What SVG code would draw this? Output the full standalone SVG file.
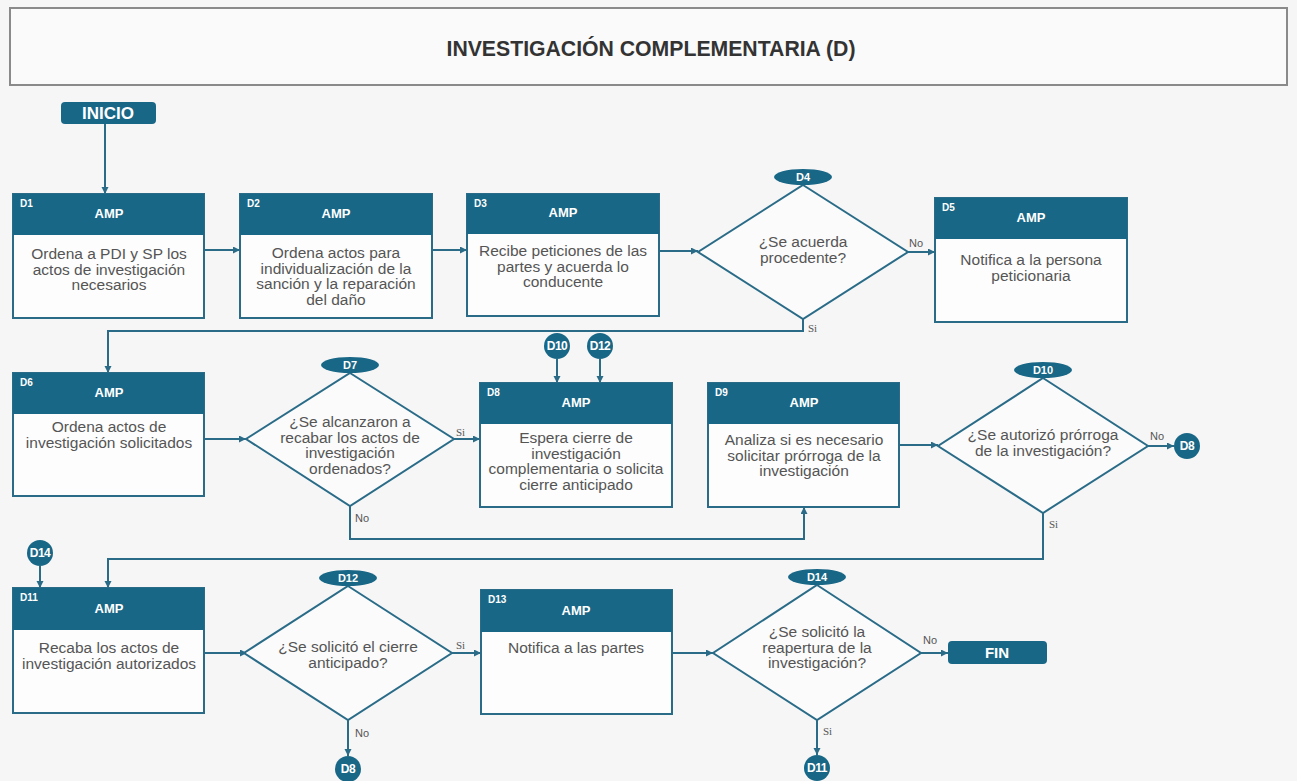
<svg xmlns="http://www.w3.org/2000/svg" width="1297" height="781" viewBox="0 0 1297 781">
<defs>
<marker id="ah" markerUnits="userSpaceOnUse" markerWidth="8" markerHeight="8" refX="7" refY="3.5" orient="auto"><path d="M0,0 L7,3.5 L0,7 z" fill="#2a6c88"/></marker>
<style>
.body{fill:#fdfdfd;stroke:#2a6c88;stroke-width:2}
.hdr{fill:#196786}
.dia{fill:#fbfbfb;stroke:#2a6c88;stroke-width:2}
.fill{fill:#196786}
.t{font-family:"Liberation Sans",Arial,sans-serif;font-size:15.5px;fill:#555;text-anchor:middle}
.amp{font-family:"Liberation Sans",Arial,sans-serif;font-size:13px;font-weight:bold;fill:#fff;text-anchor:middle}
.id{font-family:"Liberation Sans",Arial,sans-serif;font-size:10px;font-weight:bold;fill:#fff}
.ct{font-family:"Liberation Sans",Arial,sans-serif;font-size:12px;font-weight:bold;fill:#fff;text-anchor:middle;letter-spacing:-0.5px}
.ot{font-family:"Liberation Sans",Arial,sans-serif;font-size:11px;font-weight:bold;fill:#fff;text-anchor:middle}
.conn path{fill:none;stroke:#2a6c88;stroke-width:2}
.arr{marker-end:url(#ah)}
.no{font-family:"Liberation Sans",Arial,sans-serif;font-size:11px;fill:#555}
.si{font-family:"Liberation Serif","Times New Roman",serif;font-size:11px;fill:#555}
.term{font-family:"Liberation Sans",Arial,sans-serif;font-weight:bold;fill:#fff;text-anchor:middle}
</style>
</defs>
<rect x="0" y="0" width="1297" height="781" fill="#f6f6f6"/>
<g id="title">
<rect x="10" y="8" width="1277" height="77" fill="#fafafa" stroke="#8a8a8a" stroke-width="2"/>
<text x="651" y="56" font-family="'Liberation Sans',Arial,sans-serif" font-size="22" font-weight="bold" fill="#333" text-anchor="middle" textLength="409" lengthAdjust="spacingAndGlyphs">INVESTIGACIÓN COMPLEMENTARIA (D)</text>
</g>

<g class="conn">
<path class="arr" d="M105,124 V194"/>
<path class="arr" d="M204,250 H240"/>
<path class="arr" d="M432,250 H467"/>
<path class="arr" d="M659,251 H698"/>
<path class="arr" d="M908,252 H935"/>
<path class="arr" d="M803,319 V331 H108 V373"/>
<path class="arr" d="M204,439 H246"/>
<path class="arr" d="M454,439 H480"/>
<path class="arr" d="M557,359 V383"/>
<path class="arr" d="M600,359 V383"/>
<path class="arr" d="M350,506 V539 H804 V507"/>
<path class="arr" d="M899,445 H938"/>
<path class="arr" d="M1148,446 H1174"/>
<path class="arr" d="M1043,513 V559 H108 V588"/>
<path class="arr" d="M40,566 V588"/>
<path class="arr" d="M204,653 H247"/>
<path class="arr" d="M452,653 H481"/>
<path class="arr" d="M348,720 V756"/>
<path class="arr" d="M672,653 H713"/>
<path class="arr" d="M921,653 H948"/>
<path class="arr" d="M817,720 V755"/>
<text class="no" x="909" y="247">No</text>
<text class="si" x="808" y="332">Si</text>
<text class="si" x="456" y="436">Si</text>
<text class="no" x="355" y="522">No</text>
<text class="no" x="1150" y="440">No</text>
<text class="si" x="1049" y="528">Si</text>
<text class="no" x="355" y="737">No</text>
<text class="si" x="456" y="649">Si</text>
<text class="no" x="923" y="644">No</text>
<text class="si" x="823" y="735">Si</text>
</g>

<g id="INICIO"><rect class="fill" x="61" y="102" width="95" height="22" rx="4"/><text class="term" x="108" y="119" font-size="17">INICIO</text></g>
<g id="FIN"><rect class="fill" x="948" y="641" width="99" height="23" rx="4"/><text class="term" x="997" y="658" font-size="15">FIN</text></g>

<g id="D1"><rect class="body" x="13" y="194" width="191" height="124"/><rect class="hdr" x="13" y="194" width="191" height="41"/><text class="id" x="20" y="207">D1</text><text class="amp" x="109" y="218">AMP</text>
<text class="t"><tspan x="109" y="259">Ordena a PDI y SP los</tspan><tspan x="109" y="274.5">actos de investigación</tspan><tspan x="109" y="290">necesarios</tspan></text></g>

<g id="D2"><rect class="body" x="240" y="194" width="192" height="124"/><rect class="hdr" x="240" y="194" width="192" height="41"/><text class="id" x="247" y="207">D2</text><text class="amp" x="336" y="218">AMP</text>
<text class="t"><tspan x="336" y="258">Ordena actos para</tspan><tspan x="336" y="273.5">individualización de la</tspan><tspan x="336" y="289">sanción y la reparación</tspan><tspan x="336" y="304.5">del daño</tspan></text></g>

<g id="D3"><rect class="body" x="467" y="194" width="192" height="122"/><rect class="hdr" x="467" y="194" width="192" height="40"/><text class="id" x="474" y="207">D3</text><text class="amp" x="563" y="217">AMP</text>
<text class="t"><tspan x="563" y="256">Recibe peticiones de las</tspan><tspan x="563" y="271.5">partes y acuerda lo</tspan><tspan x="563" y="287">conducente</tspan></text></g>

<g id="D4"><polygon class="dia" points="803,185 908,252 803,319 698,252"/><ellipse class="fill" cx="803" cy="177" rx="29" ry="8"/><text class="ot" x="803" y="181">D4</text>
<text class="t"><tspan x="803" y="247">¿Se acuerda</tspan><tspan x="803" y="263">procedente?</tspan></text></g>

<g id="D5"><rect class="body" x="935" y="198" width="192" height="124"/><rect class="hdr" x="935" y="198" width="192" height="41"/><text class="id" x="942" y="211">D5</text><text class="amp" x="1031" y="222">AMP</text>
<text class="t"><tspan x="1031" y="265">Notifica a la persona</tspan><tspan x="1031" y="280.5">peticionaria</tspan></text></g>

<g id="D6"><rect class="body" x="13" y="373" width="191" height="123"/><rect class="hdr" x="13" y="373" width="191" height="41"/><text class="id" x="20" y="386">D6</text><text class="amp" x="109" y="397">AMP</text>
<text class="t"><tspan x="109" y="432">Ordena actos de</tspan><tspan x="109" y="448">investigación solicitados</tspan></text></g>

<g id="D7"><polygon class="dia" points="350,373 454,439 350,506 246,439"/><ellipse class="fill" cx="350" cy="365" rx="29" ry="8"/><text class="ot" x="350" y="369">D7</text>
<text class="t"><tspan x="350" y="427">¿Se alcanzaron a</tspan><tspan x="350" y="442.5">recabar los actos de</tspan><tspan x="350" y="458">investigación</tspan><tspan x="350" y="473.5">ordenados?</tspan></text></g>

<g id="D8"><rect class="body" x="480" y="383" width="192" height="124"/><rect class="hdr" x="480" y="383" width="192" height="41"/><text class="id" x="487" y="396">D8</text><text class="amp" x="576" y="407">AMP</text>
<text class="t"><tspan x="576" y="443">Espera cierre de</tspan><tspan x="576" y="458.5">investigación</tspan><tspan x="576" y="474">complementaria o solicita</tspan><tspan x="576" y="489.5">cierre anticipado</tspan></text></g>

<g id="C-D10a"><circle class="fill" cx="557" cy="346" r="13"/><text class="ct" x="557" y="350">D10</text></g>
<g id="C-D12a"><circle class="fill" cx="600" cy="346" r="13"/><text class="ct" x="600" y="350">D12</text></g>

<g id="D9"><rect class="body" x="708" y="383" width="191" height="124"/><rect class="hdr" x="708" y="383" width="191" height="41"/><text class="id" x="715" y="396">D9</text><text class="amp" x="804" y="407">AMP</text>
<text class="t"><tspan x="804" y="445">Analiza si es necesario</tspan><tspan x="804" y="460.5">solicitar prórroga de la</tspan><tspan x="804" y="476">investigación</tspan></text></g>

<g id="D10"><polygon class="dia" points="1043,378 1148,446 1043,513 938,446"/><ellipse class="fill" cx="1043" cy="370" rx="29" ry="8"/><text class="ot" x="1043" y="374">D10</text>
<text class="t"><tspan x="1043" y="440">¿Se autorizó prórroga</tspan><tspan x="1043" y="456">de la investigación?</tspan></text></g>

<g id="C-D8a"><circle class="fill" cx="1187" cy="446" r="13"/><text class="ct" x="1187" y="450">D8</text></g>
<g id="C-D14"><circle class="fill" cx="40" cy="553" r="13"/><text class="ct" x="40" y="557">D14</text></g>

<g id="D11"><rect class="body" x="13" y="588" width="191" height="125"/><rect class="hdr" x="13" y="588" width="191" height="42"/><text class="id" x="20" y="601">D11</text><text class="amp" x="109" y="613">AMP</text>
<text class="t"><tspan x="109" y="653">Recaba los actos de</tspan><tspan x="109" y="668.5">investigación autorizados</tspan></text></g>

<g id="D12"><polygon class="dia" points="348,586 452,653 348,720 244,653"/><ellipse class="fill" cx="348" cy="578" rx="29" ry="8"/><text class="ot" x="348" y="582">D12</text>
<text class="t"><tspan x="348" y="652">¿Se solicitó el cierre</tspan><tspan x="348" y="667.5">anticipado?</tspan></text></g>

<g id="C-D8b"><circle class="fill" cx="348" cy="769" r="13"/><text class="ct" x="348" y="773">D8</text></g>

<g id="D13"><rect class="body" x="481" y="590" width="191" height="124"/><rect class="hdr" x="481" y="590" width="191" height="42"/><text class="id" x="488" y="603">D13</text><text class="amp" x="576" y="615">AMP</text>
<text class="t"><tspan x="576" y="653">Notifica a las partes</tspan></text></g>

<g id="D14"><polygon class="dia" points="817,585 921,653 817,720 713,653"/><ellipse class="fill" cx="817" cy="577" rx="29" ry="8"/><text class="ot" x="817" y="581">D14</text>
<text class="t"><tspan x="817" y="637">¿Se solicitó la</tspan><tspan x="817" y="652.5">reapertura de la</tspan><tspan x="817" y="668">investigación?</tspan></text></g>

<g id="C-D11"><circle class="fill" cx="817" cy="768" r="13"/><text class="ct" x="817" y="772">D11</text></g>
</svg>
